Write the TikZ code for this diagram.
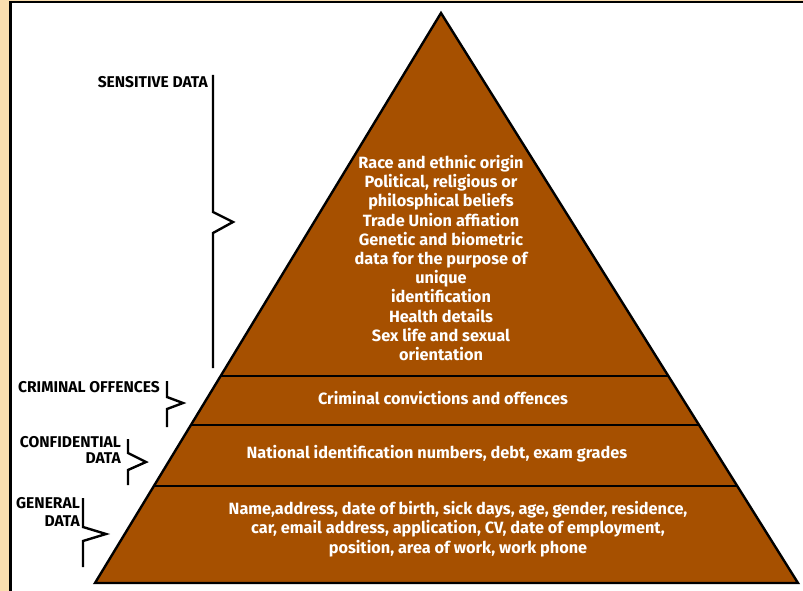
\documentclass[tikz,border=0pt]{standalone}
\usepackage{fontspec}
\setmainfont{Fira Sans}
\usetikzlibrary{calc}
\definecolor{pyr}{RGB}{166,80,0}
\definecolor{tanbg}{RGB}{250,222,175}
\begin{document}
\begin{tikzpicture}[x=1pt,y=-1pt,
  layer/.style={draw=black, line width=2.4pt},
  intext/.style={text=white, font=\bfseries\fontsize{16.3}{19.2}\selectfont, align=center, inner sep=0pt},
  lbl/.style={text=black, font=\bfseries\fontsize{15.6}{16.5}\selectfont, align=right, anchor=east, inner sep=0pt},
  bracebar/.style={draw=black, line width=2.4pt, line join=miter}]
\useasboundingbox (0,0) rectangle (803,591);
\fill[white] (0,0) rectangle (803,591);
\fill[tanbg] (0,0) rectangle (9.5,591);
\fill[tanbg] (0,0) rectangle (803,1);
\draw[black, line width=2.4pt] (10.5,591) -- (10.5,2.2) -- (803,2.2);
% pyramid
\coordinate (apex) at (441,13);
\coordinate (bl) at (95,583);
\coordinate (br) at (798,583);
\fill[pyr] (apex) -- (bl) -- (br) -- cycle;
\coordinate (d1l) at ($(apex)!0.6368!(bl)$);
\coordinate (d1r) at ($(apex)!0.6368!(br)$);
\coordinate (d2l) at ($(apex)!0.7228!(bl)$);
\coordinate (d2r) at ($(apex)!0.7228!(br)$);
\coordinate (d3l) at ($(apex)!0.8298!(bl)$);
\coordinate (d3r) at ($(apex)!0.8298!(br)$);
\draw[layer] (d1l) -- (d1r);
\draw[layer] (d2l) -- (d2r);
\draw[layer] (d3l) -- (d3r);
\draw[layer, line join=miter] (apex) -- (bl) -- (br) -- cycle;
% texts in pyramid
\node[intext] (sens) at (441,258) {Race and ethnic origin\\Political, religious or\\philosphical beliefs\\Trade Union affiation\\Genetic and biometric\\data for the purpose of\\unique\\identification\\Health details\\Sex life and sexual\\orientation};
\node[intext] (crim) at (443,398) {Criminal convictions and offences};
\node[intext] (nat) at (437,453.5) {National identification numbers, debt, exam grades};
\node[intext] (gen) at (458,529) {Name,address, date of birth, sick days, age, gender, residence,\\car, email address, application, CV, date of employment,\\position, area of work, work phone};
% labels
\node[lbl] (lsens) at (208,82) {SENSITIVE DATA};
\node[lbl] (lcrim) at (160,387) {CRIMINAL OFFENCES};
\node[lbl, font=\bfseries\fontsize{15.6}{16}\selectfont] (lconf) at (121,450) {CONFIDENTIAL\\DATA};
\node[lbl, font=\bfseries\fontsize{15.6}{18}\selectfont] (lgen) at (80,512) {GENERAL\\DATA};
% brackets
\coordinate (b1a) at (213,75);
\coordinate (b1b) at (213,368);
\draw[bracebar] (b1a) -- (213,212) -- (233,222) -- (213,233) -- (b1b);
\coordinate (b2a) at (167,381);
\coordinate (b2b) at (167,427);
\draw[bracebar] (b2a) -- (167,397) -- (183,403) -- (167,409) -- (b2b);
\coordinate (b3a) at (128,439);
\coordinate (b3b) at (128,485);
\draw[bracebar] (b3a) -- (128,453) -- (146,462) -- (128,470) -- (b3b);
\coordinate (b4a) at (83,498);
\coordinate (b4b) at (83,567);
\draw[bracebar] (b4a) -- (83,527) -- (106,534) -- (83,541) -- (b4b);
\end{tikzpicture}
\end{document}
